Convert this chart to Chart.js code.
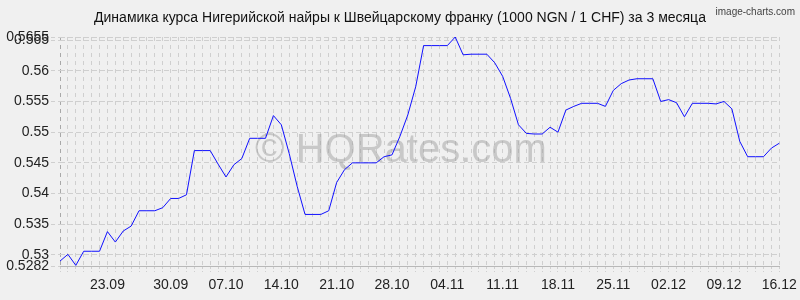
<!DOCTYPE html>
<html><head><meta charset="utf-8">
<script src="https://cdn.jsdelivr.net/npm/chart.js@4"></script>
<style>html,body{margin:0;padding:0;background:#f0f0f0;} canvas{display:block;}</style>
</head><body>
<canvas id="c" width="800" height="300"></canvas>
<script>
const chartTitle = "Динамика курса Нигерийской найры к Швейцарскому франку (1000 NGN / 1 CHF) за 3 месяца";
const watermarkText = "© HQRates.com";
const creditText = "image-charts.com";

const dates = [
  "17.09","18.09","19.09","20.09","21.09","22.09","23.09","24.09","25.09","26.09",
  "27.09","28.09","28.09","29.09","30.09","01.10","02.10","03.10","04.10","05.10",
  "06.10","07.10","08.10","09.10","10.10","11.10","12.10","13.10","14.10","15.10",
  "16.10","17.10","18.10","19.10","20.10","21.10","22.10","23.10","24.10","25.10",
  "26.10","27.10","28.10","29.10","30.10","31.10","01.11","02.11","03.11","04.11",
  "05.11","06.11","07.11","08.11","09.11","10.11","11.11","12.11","13.11","14.11",
  "15.11","16.11","17.11","18.11","19.11","20.11","21.11","22.11","23.11","24.11",
  "25.11","26.11","27.11","28.11","29.11","30.11","01.12","02.12","03.12","04.12",
  "05.12","06.12","07.12","08.12","09.12","10.12","11.12","12.12","13.12","14.12",
  "15.12","16.12"
];

const rates = [
  0.5290,0.5301,0.5283,0.5306,0.5306,0.5306,0.5338,0.5321,0.5339,0.5347,
  0.5372,0.5372,0.5372,0.5377,0.5392,0.5392,0.5398,0.5470,0.5470,0.5470,
  0.5448,0.5427,0.5447,0.5457,0.5490,0.5490,0.5490,0.5527,0.5512,0.5465,
  0.5412,0.5366,0.5366,0.5366,0.5372,0.5418,0.5439,0.5450,0.5450,0.5450,
  0.5450,0.5460,0.5463,0.5493,0.5528,0.5574,0.5641,0.5641,0.5641,0.5641,
  0.5655,0.5626,0.5627,0.5627,0.5627,0.5613,0.5591,0.5555,0.5512,0.5498,
  0.5497,0.5497,0.5508,0.5500,0.5536,0.5542,0.5547,0.5547,0.5547,0.5542,
  0.5568,0.5579,0.5585,0.5587,0.5587,0.5587,0.5550,0.5553,0.5548,0.5525,
  0.5547,0.5547,0.5547,0.5546,0.5550,0.5538,0.5485,0.5460,0.5460,0.5460,
  0.5474,0.5482
];

const xTickLabels = ["23.09","30.09","07.10","14.10","21.10","28.10","04.11","11.11","18.11","25.11","02.12","09.12","16.12"];
const yTickValues = [0.5282,0.53,0.535,0.54,0.545,0.55,0.555,0.56,0.565,0.5655];
const yMin = 0.5282;
const yMax = 0.5655;

const FONT = "'Liberation Sans', Arial, sans-serif";

const decor = {
  id: 'decor',
  beforeDraw(chart) {
    const c = chart.ctx;
    c.save();
    c.fillStyle = '#f0f0f0';
    c.fillRect(0, 0, chart.width, chart.height);
    c.restore();
  },
  beforeDatasetsDraw(chart) {
    const c = chart.ctx;
    c.save();
    c.font = "40px " + FONT;
    c.fillStyle = 'rgba(150,150,150,0.45)';
    c.textAlign = 'center';
    c.textBaseline = 'alphabetic';
    c.fillText(watermarkText, 401, 162);
    c.restore();
  },
  afterDraw(chart) {
    const c = chart.ctx;
    c.save();
    c.fillStyle = '#111';
    c.font = "14px " + FONT;
    c.textAlign = 'center';
    c.textBaseline = 'middle';
    c.fillText(chartTitle, 400, 18);
    c.fillStyle = '#444';
    c.font = "10px " + FONT;
    c.textAlign = 'right';
    c.fillText(creditText, 795, 12);
    c.restore();
  }
};

new Chart(document.getElementById('c'), {
  type: 'line',
  data: {
    labels: dates,
    datasets: [{
      data: rates,
      borderColor: '#1010ff',
      borderWidth: 1,
      pointRadius: 0,
      tension: 0,
      fill: false
    }]
  },
  options: {
    responsive: false,
    animation: false,
    devicePixelRatio: 1,
    layout: { padding: { left: 0, right: 20.7, top: 37, bottom: 0 } },
    plugins: { legend: { display: false }, title: { display: false }, tooltip: { enabled: false } },
    scales: {
      x: {
        type: 'category',
        offset: false,
        grid: {
          color: (ctx) => ctx.index === 0 ? '#a8a8a8' : '#cfcfcf',
          lineWidth: 1,
          drawTicks: true,
          tickLength: 6,
          tickBorderDash: [2, 2],
          tickColor: '#cfcfcf'
        },
        border: { display: true, color: '#b8b8b8', dash: [4, 4] },
        ticks: {
          autoSkip: false,
          maxRotation: 0,
          minRotation: 0,
          padding: 5,
          color: '#222',
          font: { size: 14, family: FONT },
          callback: function(value, index) {
            const lab = dates[index];
            return (xTickLabels.includes(lab) && dates.indexOf(lab) === index) ? lab : '';
          }
        },
        afterFit(s) { s.height = 34; s.paddingLeft = 0; s.paddingRight = 0; }
      },
      y: {
        min: yMin,
        max: yMax,
        afterBuildTicks(s) { s.ticks = yTickValues.map(v => ({ value: v })); },
        grid: {
          color: '#cfcfcf',
          lineWidth: 1,
          drawTicks: true,
          tickLength: 9,
          tickBorderDash: [4, 3],
          tickColor: '#cfcfcf'
        },
        border: { display: false, dash: [5, 3] },
        ticks: {
          autoSkip: false,
          padding: 2,
          color: '#222',
          font: { size: 14, family: FONT },
          callback: (v) => String(v)
        },
        afterFit(s) { s.width = 60; s.paddingTop = 0; s.paddingBottom = 0; }
      }
    }
  },
  plugins: [decor]
});
</script>
</body></html>
